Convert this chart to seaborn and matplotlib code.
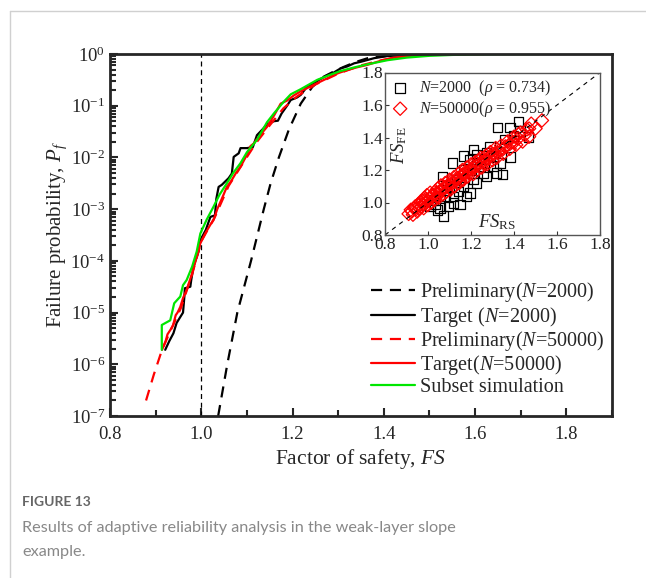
import numpy as np
import pandas as pd
import matplotlib
matplotlib.use('Agg')
import matplotlib.pyplot as plt
import seaborn as sns
from matplotlib.ticker import MultipleLocator, LogLocator, NullFormatter, FormatStrFormatter
from matplotlib.lines import Line2D

# Main panel: factor of safety vs log10(failure probability)
pre2k_fs = [1.037, 1.047, 1.057, 1.068, 1.079, 1.094, 1.109, 1.123, 1.137, 1.152, 1.170,
            1.192, 1.218, 1.243, 1.268, 1.290, 1.312, 1.338, 1.365, 1.41, 1.45, 1.50, 1.55]
pre2k_logpf = [-7.0, -6.5, -6.0, -5.5, -5.0, -4.5, -4.0, -3.5, -3.0, -2.5, -2.0,
               -1.46, -0.96, -0.64, -0.44, -0.34, -0.25, -0.155, -0.08, -0.032, -0.013, -0.004, 0.0]

tgt2k_fs = [0.921, 0.930, 0.939, 0.946, 0.960, 0.963, 0.964, 0.976, 0.978, 0.983, 0.994,
            0.998, 1.010, 1.020, 1.030, 1.033, 1.038, 1.045, 1.060, 1.067, 1.071, 1.082,
            1.086, 1.100, 1.113, 1.122, 1.135, 1.144, 1.159, 1.168, 1.176, 1.188, 1.196,
            1.210, 1.218, 1.232, 1.247, 1.258, 1.276, 1.290, 1.305, 1.320, 1.335, 1.350,
            1.379, 1.408, 1.45, 1.50, 1.55]
tgt2k_logpf = [-5.72, -5.55, -5.40, -5.20, -5.00, -4.69, -4.53, -4.50, -4.37, -4.11, -3.82,
               -3.60, -3.40, -3.15, -3.12, -2.80, -2.57, -2.53, -2.40, -2.31, -1.99, -1.92,
               -1.82, -1.82, -1.80, -1.57, -1.45, -1.36, -1.30, -1.29, -1.15, -1.00, -0.89,
               -0.84, -0.79, -0.63, -0.57, -0.50, -0.41, -0.36, -0.28, -0.24, -0.18, -0.15,
               -0.08, -0.04, -0.02, -0.005, 0.0]

pre50k_fs = [0.879, 0.896, 0.914, 0.930, 0.955, 0.980, 1.000, 1.030, 1.060, 1.090, 1.120,
             1.150, 1.180, 1.210, 1.250, 1.300, 1.350, 1.400, 1.450, 1.500, 1.560, 1.620]
pre50k_logpf = [-6.70, -6.20, -5.72, -5.40, -4.92, -4.26, -3.62, -3.15, -2.55, -2.13, -1.72,
                -1.38, -1.05, -0.82, -0.59, -0.38, -0.22, -0.11, -0.05, -0.018, -0.004, 0.0]

tgt50k_fs = [0.914, 0.922, 0.926, 0.932, 0.938, 0.944, 0.948, 0.954, 0.960, 0.968, 0.974,
             0.980, 0.985, 0.990, 0.998, 1.010, 1.020, 1.027, 1.035, 1.045, 1.056, 1.066,
             1.076, 1.086, 1.100, 1.108, 1.115, 1.128, 1.144, 1.160, 1.174, 1.188, 1.203,
             1.218, 1.232, 1.255, 1.276, 1.283, 1.300, 1.320, 1.340, 1.364, 1.390, 1.415,
             1.45, 1.50, 1.55, 1.60]
tgt50k_logpf = [-5.72, -5.55, -5.42, -5.34, -5.25, -5.05, -5.00, -4.89, -4.72, -4.56, -4.40,
                -4.24, -4.08, -3.92, -3.66, -3.45, -3.30, -3.21, -3.00, -2.80, -2.57, -2.45,
                -2.30, -2.18, -1.95, -1.78, -1.73, -1.58, -1.41, -1.18, -0.96, -0.90, -0.80,
                -0.72, -0.66, -0.56, -0.47, -0.44, -0.37, -0.31, -0.26, -0.21, -0.14, -0.08,
                -0.04, -0.015, -0.004, 0.0]

subset_fs = [0.9135, 0.9135, 0.932, 0.9407, 0.954, 0.960, 0.968, 0.980, 0.990, 0.998, 1.012,
             1.027, 1.040, 1.056, 1.070, 1.086, 1.100, 1.122, 1.144, 1.160, 1.181, 1.196,
             1.218, 1.254, 1.283, 1.305, 1.335, 1.364, 1.408, 1.45, 1.50, 1.55, 1.60, 1.65, 1.74]
subset_logpf = [-5.72, -5.24, -5.15, -4.82, -4.69, -4.47, -4.37, -4.11, -3.82, -3.47, -3.20,
                -2.95, -2.72, -2.50, -2.30, -2.11, -1.90, -1.66, -1.32, -1.14, -0.92, -0.78,
                -0.68, -0.50, -0.40, -0.33, -0.26, -0.20, -0.12, -0.07, -0.035, -0.018, -0.008,
                -0.003, 0.0]

# Inset: FS from response surface vs FS from finite elements
n2k_rs = [1.42, 1.381, 1.324, 1.467, 1.385, 1.347, 1.273, 1.211, 1.164, 1.115, 1.067, 1.11,
          1.025, 1.043, 1.071, 1.149, 1.195, 1.226, 1.257, 1.304, 1.335, 1.288, 1.358, 1.397,
          1.428, 1.226, 1.195, 1.242, 1.164, 1.133, 1.087, 1.056, 1.118, 1.164, 1.18, 1.095,
          1.118, 1.056, 1.009, 1.141, 1.211, 1.273, 1.304, 1.203, 1.079, 1.033, 1.226, 1.257,
          1.319]
n2k_fe = [1.50, 1.46, 1.46, 1.404, 1.28, 1.171, 1.305, 1.326, 1.285, 1.243, 1.161, 1.10,
          1.016, 0.955, 0.918, 0.986, 1.058, 1.12, 1.181, 1.223, 1.243, 1.346, 1.388, 1.408,
          1.439, 1.295, 1.264, 1.223, 1.202, 1.14, 1.078, 1.037, 1.037, 1.099, 1.037, 0.975,
          0.996, 0.965, 0.975, 1.068, 1.14, 1.161, 1.285, 1.181, 1.037, 0.986, 1.243, 1.264,
          1.181]

n50k_rs = [0.91, 0.92, 0.93, 0.935, 0.94, 0.95, 0.955, 0.96, 0.965, 0.97, 0.975, 0.98,
           0.985, 0.99, 0.995, 1.0, 1.005, 1.01, 1.015, 1.02, 1.03, 1.035, 1.04, 1.045,
           1.05, 1.055, 1.06, 1.07, 1.075, 1.08, 1.085, 1.09, 1.1, 1.105, 1.11, 1.12,
           1.125, 1.13, 1.14, 1.145, 1.15, 1.16, 1.165, 1.17, 1.18, 1.185, 1.19, 1.2,
           1.21, 1.215, 1.22, 1.23, 1.24, 1.245, 1.25, 1.26, 1.27, 1.275, 1.28, 1.29,
           1.3, 1.31, 1.315, 1.32, 1.33, 1.34, 1.35, 1.36, 1.37, 1.38, 1.39, 1.40,
           1.41, 1.42, 1.43, 1.44, 1.45, 1.46, 1.47, 1.48, 1.50, 1.53,
           0.925, 0.945, 0.96, 0.975, 0.99, 1.0, 1.01, 1.025, 1.04, 1.05, 1.065, 1.08,
           1.095, 1.11, 1.12, 1.135, 1.15, 1.16, 1.175, 1.19, 1.2, 1.21, 1.225, 1.24,
           1.26, 1.27, 1.29, 1.3, 1.325, 1.35, 1.38, 1.4, 1.42, 1.47]
n50k_fe = [0.93, 0.955, 0.925, 0.965, 0.975, 0.945, 0.99, 0.965, 1.005, 0.975, 1.01, 0.965,
           1.03, 0.995, 1.045, 0.985, 1.025, 1.06, 1.0, 1.04, 1.015, 1.07, 1.035, 1.085,
           1.03, 1.07, 1.105, 1.05, 1.095, 1.12, 1.065, 1.1, 1.14, 1.08, 1.115, 1.155,
           1.1, 1.135, 1.175, 1.12, 1.16, 1.2, 1.14, 1.175, 1.215, 1.16, 1.195, 1.235,
           1.175, 1.215, 1.25, 1.2, 1.24, 1.275, 1.215, 1.255, 1.29, 1.235, 1.275, 1.31,
           1.26, 1.3, 1.335, 1.275, 1.32, 1.35, 1.3, 1.345, 1.375, 1.33, 1.37, 1.405,
           1.355, 1.395, 1.43, 1.375, 1.415, 1.45, 1.405, 1.485, 1.455, 1.505,
           0.945, 0.96, 0.985, 0.99, 1.02, 1.01, 1.03, 1.045, 1.06, 1.055, 1.08, 1.09,
           1.11, 1.13, 1.125, 1.15, 1.135, 1.17, 1.19, 1.18, 1.205, 1.22, 1.225, 1.26,
           1.24, 1.265, 1.285, 1.3, 1.305, 1.33, 1.36, 1.37, 1.42, 1.455]

sns.set_style('ticks')
plt.rcParams['font.family'] = ['Liberation Serif', 'DejaVu Serif']
plt.rcParams['mathtext.fontset'] = 'custom'
plt.rcParams['mathtext.rm'] = 'Liberation Serif'
plt.rcParams['mathtext.it'] = 'Liberation Serif:italic'
plt.rcParams['mathtext.bf'] = 'Liberation Serif:bold'

fig = plt.figure(figsize=(6.46, 5.78), dpi=100)

# light card frame
fig.add_artist(Line2D([10/646, 10/646], [0, 1 - 11/578], transform=fig.transFigure, color='#d0d0d0', lw=1))
fig.add_artist(Line2D([10/646, 1], [1 - 11/578, 1 - 11/578], transform=fig.transFigure, color='#d0d0d0', lw=1))

ax = fig.add_axes([110/646, 1 - 416/578, 502/646, 362/578])
ax.set_yscale('log')
ax.axvline(1.0, color='black', lw=0.9, ls=(0, (4, 3)))

series = [
    (pre2k_fs, pre2k_logpf, 'black', (0, (5, 3.5)), 'Preliminary($N$=2000)'),
    (tgt2k_fs, tgt2k_logpf, 'black', '-', 'Target ($N$=2000)'),
    (pre50k_fs, pre50k_logpf, '#ff0000', (0, (5, 3.5)), 'Preliminary($N$=50000)'),
    (tgt50k_fs, tgt50k_logpf, '#ff0000', '-', 'Target($N$=50000)'),
    (subset_fs, subset_logpf, '#00e600', '-', 'Subset simulation'),
]
for fs, logpf, col, ls, lab in series:
    d = pd.DataFrame({'FS': fs, 'Pf': 10 ** np.array(logpf)})
    sns.lineplot(data=d, x='FS', y='Pf', sort=False, estimator=None, color=col,
                 lw=1.6, ls=ls, label=lab, ax=ax)

ax.set_xlim(0.8, 1.9)
ax.set_ylim(1e-7, 1)
ax.xaxis.set_major_locator(MultipleLocator(0.2))
ax.xaxis.set_minor_locator(MultipleLocator(0.1))
ax.xaxis.set_major_formatter(FormatStrFormatter('%.1f'))
ax.yaxis.set_major_locator(LogLocator(base=10, numticks=20))
ax.yaxis.set_minor_locator(LogLocator(base=10, subs=np.arange(2, 10), numticks=20))
ax.yaxis.set_minor_formatter(NullFormatter())
ax.tick_params(which='both', direction='in', width=1.5, labelsize=13.5, top=False, right=False)
ax.tick_params(which='major', length=6)
ax.tick_params(which='minor', length=4)
ax.tick_params(axis='x', pad=7)
for s in ax.spines.values():
    s.set_linewidth(2)
ax.set_xlabel('Factor of safety, $FS$', fontsize=15.5, labelpad=3)
ax.set_ylabel('Failure probability, $P_f$', fontsize=15, labelpad=1)
ax.legend(loc='lower right', bbox_to_anchor=(1.005, 0.025), frameon=False, fontsize=14.5,
          handlelength=2.2, handletextpad=0.25, labelspacing=0.02, borderpad=0)

# inset
ins = fig.add_axes([385/646, 1 - 235/578, 215/646, 162.5/578])
ins.plot([0.8, 1.8], [0.8, 1.8], color='black', lw=0.8, ls=(0, (4, 4)))
sns.scatterplot(x=n2k_rs, y=n2k_fe, marker='s', s=46, facecolor='none', edgecolor='black',
                linewidth=0.9, label=r'$N$=2000  ($\rho$ = 0.734)', ax=ins)
sns.scatterplot(x=n50k_rs, y=n50k_fe, marker='D', s=46, facecolor='none', edgecolor='#ff0000',
                linewidth=0.9, label=r'$N$=50000($\rho$ = 0.955)', ax=ins)
ins.set_xlim(0.8, 1.8)
ins.set_ylim(0.8, 1.8)
ins.xaxis.set_major_locator(MultipleLocator(0.2))
ins.yaxis.set_major_locator(MultipleLocator(0.2))
ins.xaxis.set_major_formatter(FormatStrFormatter('%.1f'))
ins.yaxis.set_major_formatter(FormatStrFormatter('%.1f'))
ins.tick_params(direction='in', length=3, width=0.8, labelsize=12.5, pad=1.5, colors='#333333',
                labelcolor='#222222')
for s in ins.spines.values():
    s.set_linewidth(1.0)
    s.set_color('#555555')
ins.set_xlabel('')
ins.set_ylabel('')
ins.text(0.065, 0.55, r'$FS_{\mathrm{FE}}$', transform=ins.transAxes, rotation=90,
         ha='center', va='center', fontsize=13.5)
ins.text(0.52, 0.08, r'$FS_{\mathrm{RS}}$', transform=ins.transAxes,
         ha='center', va='center', fontsize=13.5)
ins.legend(loc='upper left', frameon=False, fontsize=11.5, handletextpad=0.6, handlelength=1.2,
           labelspacing=0.05, borderaxespad=0.15, borderpad=0.2)

# caption
fig.text(22/646, 1 - 502/578, 'FIGURE 13', fontfamily='Lato', fontweight='bold', fontsize=10,
         color='#666666', va='center')
fig.text(22/646, 1 - 532/578, 'Results of adaptive reliability analysis in the weak-layer slope',
         fontfamily='Lato', fontsize=11.7, color='#888888', va='baseline')
fig.text(22/646, 1 - 556/578, 'example.', fontfamily='Lato', fontsize=11.7, color='#888888',
         va='baseline')

fig.savefig('out.png', dpi=100)
